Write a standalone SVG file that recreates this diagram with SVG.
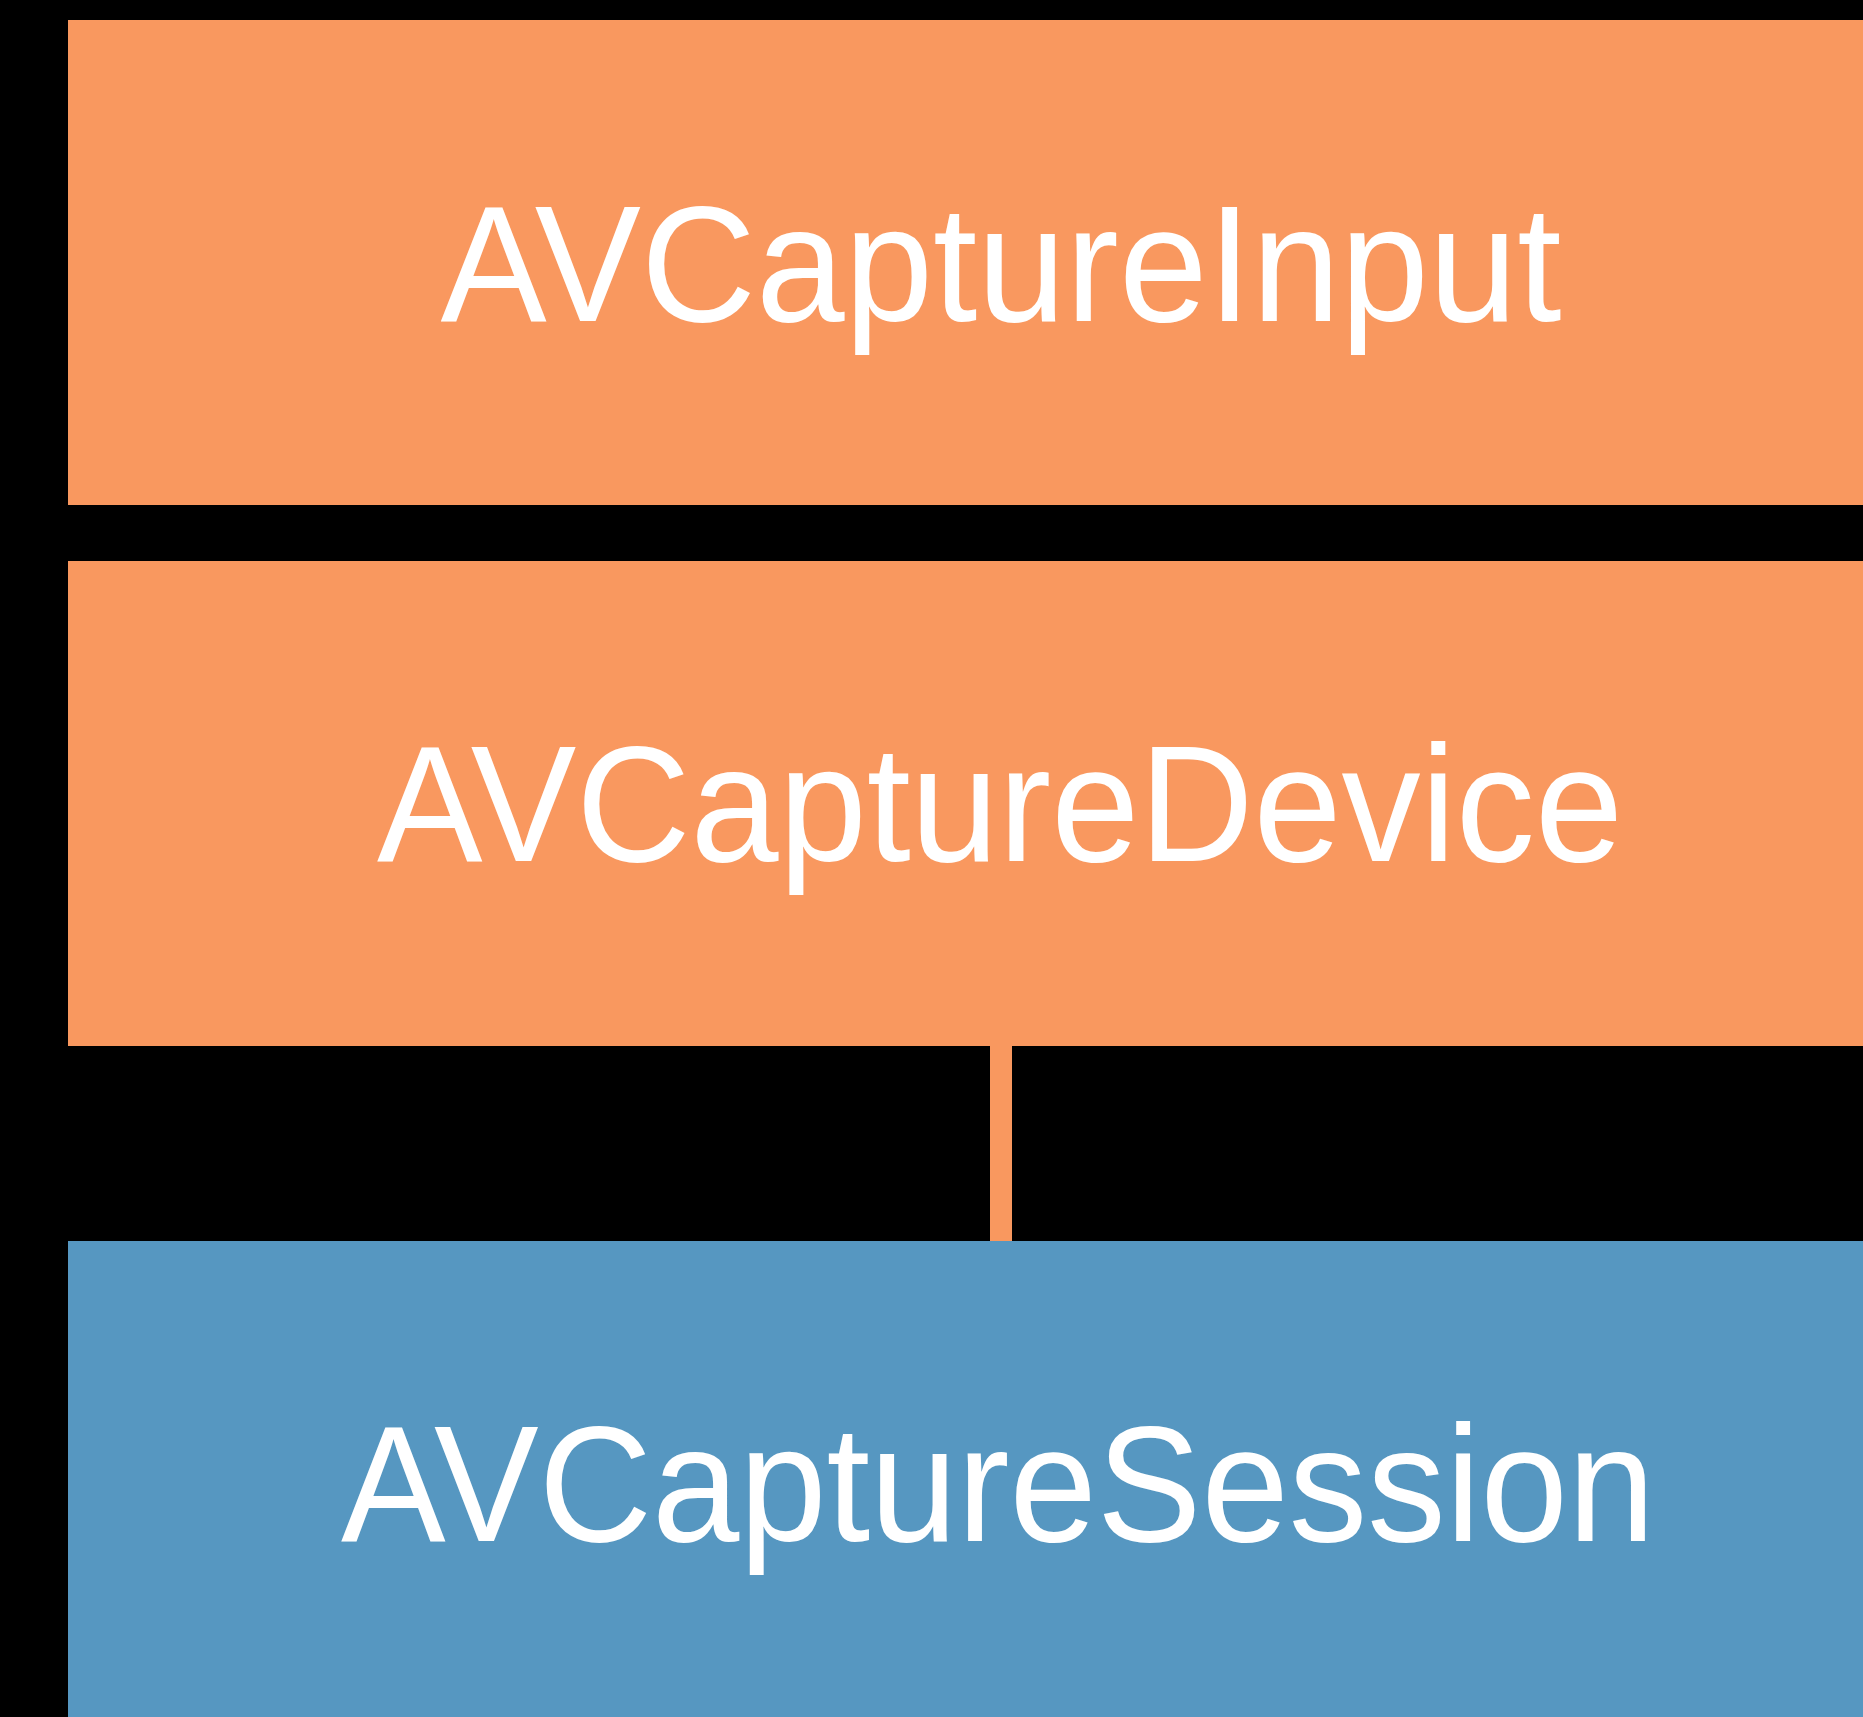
<svg xmlns="http://www.w3.org/2000/svg" width="1863" height="1717" viewBox="0 0 1863 1717">
<style>
.orange{fill:#F9985F}
.blue{fill:#5697C1}
.lbl{fill:#FFFFFF;font-family:"Liberation Sans",Arial,sans-serif;font-size:165px;text-anchor:middle}
.conn{stroke:#F9985F;stroke-width:22;fill:none}
</style>
<rect x="0" y="0" width="1863" height="1717" fill="#000000"/>
<g id="connectors">
<line class="conn" x1="1001" y1="1040" x2="1001" y2="1245"/>
</g>
<g id="node-input">
<rect class="orange" x="68" y="20" width="1795" height="485"/>
<text class="lbl" x="1001" y="321" textLength="1121" lengthAdjust="spacingAndGlyphs">AVCaptureInput</text>
</g>
<g id="node-device">
<rect class="orange" x="68" y="561" width="1795" height="485"/>
<text class="lbl" x="1000" y="861" textLength="1246" lengthAdjust="spacingAndGlyphs">AVCaptureDevice</text>
</g>
<g id="node-session">
<rect class="blue" x="68" y="1241" width="1795" height="476"/>
<text class="lbl" x="998" y="1541" textLength="1314" lengthAdjust="spacingAndGlyphs">AVCaptureSession</text>
</g>
</svg>
